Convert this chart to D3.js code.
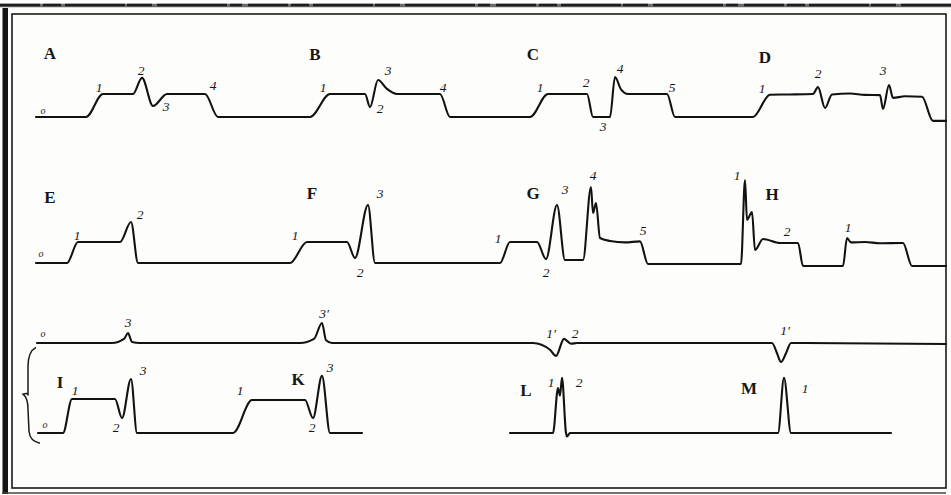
<!DOCTYPE html>
<html>
<head>
<meta charset="utf-8">
<script src="https://cdn.jsdelivr.net/npm/d3@7/dist/d3.min.js"></script>
<style>
  html, body { margin: 0; padding: 0; background: #fdfdfc; }
  svg { display: block; }
  .trace { fill: none; stroke: #121212; stroke-width: 2.1; stroke-linejoin: round; stroke-linecap: round; }
  .letter { font-family: "Liberation Serif", "DejaVu Serif", serif; font-size: 17px; font-weight: bold; fill: #161616; }
  .num { font-family: "Liberation Serif", "DejaVu Serif", serif; font-size: 13.5px; font-style: italic; fill: #161616; }
</style>
</head>
<body>
<svg id="chart" width="951" height="495"></svg>
<script>
// Myograph traces. Each point is [time, amplitude]; amplitude is measured in
// units of the contraction plateau (0 = muscle at rest).
const traceABCD = [
  [36, 0], [86, 0], [103, 1], [133, 1], [142, 1.7], [153, 0.48], [167, 1], [205, 1], [218, 0],
  [310, 0], [330, 1], [365, 1], [370, 0.43], [378, 1.61], [387, 1.22], [397, 1], [440, 1], [450, 0],
  [530, 0], [548, 1], [587, 1], [593, 0], [610, 0], [615, 1.74], [621, 1.2], [628, 1], [667, 1], [675, 0],
  [753, 0], [770, 0.97], [790, 0.98], [813, 1], [818, 1.3], [825, 0.39], [832, 0.98], [850, 1.02],
  [865, 0.96], [880, 0.95], [883, 0.35], [889, 1.39], [893, 0.83], [905, 0.9], [922, 0.88], [933, -0.17], [946, -0.17]
];

const traceEFGH = [
  [36, 0], [67, 0], [78, 1], [120, 1], [131, 1.95], [138, 0],
  [290, 0], [307, 1], [347, 1], [355, 0.24], [368, 2.76], [375, 0],
  [500, 0], [510, 1], [537, 1], [546, 0.19], [557, 2.76], [565, 0.14], [583, 0.14], [591, 3.62],
  [593, 2.38], [596, 2.86], [600, 1.19], [610, 1.05], [625, 0.98], [640, 1.03], [648, -0.05],
  [741, -0.05], [745, 3.95], [747, 2.05], [752, 2.43], [755, 0.62], [763, 1.14], [780, 0.95], [798, 0.95], [803, -0.14],
  [843, -0.14], [847, 1.19], [851, 0.98], [865, 1.0], [880, 0.94], [903, 0.95], [912, -0.14], [946, -0.14]
];

// Stimulus signal line above I–M
const signalIKLM = [
  [37, 0], [112, 0], [124, 0.12], [128, 0.29], [132, 0.03], [140, 0],
  [300, 0], [314, 0.12], [322, 0.59], [326, 0.08], [332, 0],
  [533, 0], [550, -0.2], [556, -0.38], [564, 0.12], [571, -0.02], [577, 0],
  [772, 0], [777, -0.3], [781, -0.56], [786, -0.3], [791, 0], [946, -0.03]
];

const traceIK = [
  [38, 0], [63, 0], [72, 1], [115, 1], [122, 0.44], [131, 1.59], [137, 0],
  [233, 0], [252, 0.97], [305, 0.97], [313, 0.44], [322, 1.68], [330, 0], [362, 0]
];

const traceLM = [
  [510, 0], [553, 0], [558, 1.32], [560, 1.1], [562, 1.62], [566, 0], [567, -0.1], [570, 0],
  [778, 0], [784, 1.62], [791, 0], [891, 0]
];

// Panel letters: [text, time, amplitude]
const lettersABCD = [["A", 50, 2.78], ["B", 315, 2.7], ["C", 533, 2.7], ["D", 765, 2.6]];
const lettersEFGH = [["E", 50, 3.14], ["F", 312, 3.33], ["G", 533, 3.33], ["H", 772, 3.24]];
const lettersIKLM = [["I", 60, 1.5], ["K", 298, 1.56], ["L", 526, 1.24], ["M", 749, 1.32]];

// Point numbers: [text, time, amplitude]
const numbersABCD = [
  ["o", 43, 0.3], ["1", 99, 1.3], ["2", 141, 2.04], ["3", 166, 0.45], ["4", 213, 1.39],
  ["1", 323, 1.3], ["3", 388, 2.04], ["2", 380, 0.39], ["4", 443, 1.3],
  ["1", 540, 1.3], ["2", 586, 1.52], ["3", 603, -0.43], ["4", 620, 2.13], ["5", 672, 1.3],
  ["1", 762, 1.26], ["2", 818, 1.91], ["3", 883, 2.04]
];
const numbersEFGH = [
  ["o", 41, 0.43], ["1", 77, 1.29], ["2", 140, 2.29],
  ["1", 295, 1.29], ["2", 360, -0.43], ["3", 380, 3.33],
  ["1", 498, 1.19], ["2", 546, -0.43], ["3", 565, 3.48], ["4", 593, 4.19], ["5", 643, 1.57],
  ["1", 737, 4.19], ["2", 787, 1.48], ["1", 848, 1.67]
];
const numbersSignal = [
  ["o", 43, 0.29], ["3", 128, 0.59], ["3\u2032", 324, 0.88],
  ["1\u2032", 551, 0.29], ["2", 575, 0.29], ["1\u2032", 785, 0.38]
];
const numbersIKLM = [
  ["o", 45, 0.24], ["1", 75, 1.26], ["2", 116, 0.17], ["3", 143, 1.85],
  ["1", 240, 1.26], ["2", 312, 0.15], ["3", 330, 1.94],
  ["1", 551, 1.5], ["2", 579, 1.5], ["1", 805, 1.32]
];

const W = 951, H = 495;
const svg = d3.select("#chart");

// One shared time axis across the plate
const x = d3.scaleLinear().domain([0, 951]).range([0, W]);

// Row layout: resting baseline and plateau height in pixels
const rows = [
  { traces: [traceABCD], letters: lettersABCD, numbers: numbersABCD, base: 117, unit: 23 },
  { traces: [traceEFGH], letters: lettersEFGH, numbers: numbersEFGH, base: 263, unit: 21 },
  { traces: [signalIKLM], letters: [], numbers: numbersSignal, base: 343, unit: 34 },
  { traces: [traceIK, traceLM], letters: lettersIKLM, numbers: numbersIKLM, base: 433, unit: 34 }
];

// Plate frame
const frame = svg.append("g");
frame.append("rect").attr("x", 12).attr("y", 14).attr("width", 934).attr("height", 474)
  .attr("fill", "none").attr("stroke", "#1a1a1a").attr("stroke-width", 1.6);
frame.append("line").attr("x1", 0).attr("x2", W).attr("y1", 5.5).attr("y2", 5.5)
  .attr("stroke", "#6a6a6a").attr("stroke-width", 3.5);
frame.append("line").attr("x1", 0).attr("x2", W).attr("y1", 5).attr("y2", 5)
  .attr("stroke", "#1e1e1e").attr("stroke-width", 2.5).attr("stroke-dasharray", "40 3 18 4 60 2 25 5 70 3 12 6");
frame.append("rect").attr("x", 2.5).attr("y", 8).attr("width", 5.5).attr("height", 486).attr("fill", "#151515");
frame.append("line").attr("x1", 2).attr("x2", 946).attr("y1", 493).attr("y2", 493)
  .attr("stroke", "#444").attr("stroke-width", 1.4);

rows.forEach(row => {
  const y = d3.scaleLinear().domain([0, 1]).range([row.base, row.base - row.unit]);
  const line = d3.line().x(d => x(d[0])).y(d => y(d[1])).curve(d3.curveMonotoneX);
  const g = svg.append("g");
  g.selectAll("path.trace").data(row.traces).join("path")
    .attr("class", "trace").attr("d", line);
  g.selectAll("text.letter").data(row.letters).join("text")
    .attr("class", "letter").attr("x", d => x(d[1])).attr("y", d => y(d[2]))
    .attr("text-anchor", "middle").attr("dominant-baseline", "central").text(d => d[0]);
  g.selectAll("text.num").data(row.numbers).join("text")
    .attr("class", "num").attr("x", d => x(d[1])).attr("y", d => y(d[2]))
    .attr("text-anchor", "middle").attr("dominant-baseline", "central")
    .style("font-size", d => d[0] === "o" ? "10px" : null).text(d => d[0]);
});

// Brace joining the signal line with traces I–M
const ySig = d3.scaleLinear().domain([0, 1]).range([343, 309]);
const yIK = d3.scaleLinear().domain([0, 1]).range([433, 399]);
const brace = d3.path();
brace.moveTo(x(36), ySig(-0.13));
brace.quadraticCurveTo(x(28), ySig(-0.25), x(28), ySig(-0.7));
brace.lineTo(x(28), yIK(1.1));
brace.quadraticCurveTo(x(28), yIK(1.2), x(23), yIK(1.2) + 2);
brace.quadraticCurveTo(x(28), yIK(1.15) + 4, x(28), yIK(0.7));
brace.lineTo(x(29), yIK(0.05));
brace.quadraticCurveTo(x(30), yIK(-0.25), x(40), yIK(-0.3));
svg.append("path").attr("d", brace.toString())
  .attr("fill", "none").attr("stroke", "#1a1a1a").attr("stroke-width", 1.5);
</script>
</body>
</html>
